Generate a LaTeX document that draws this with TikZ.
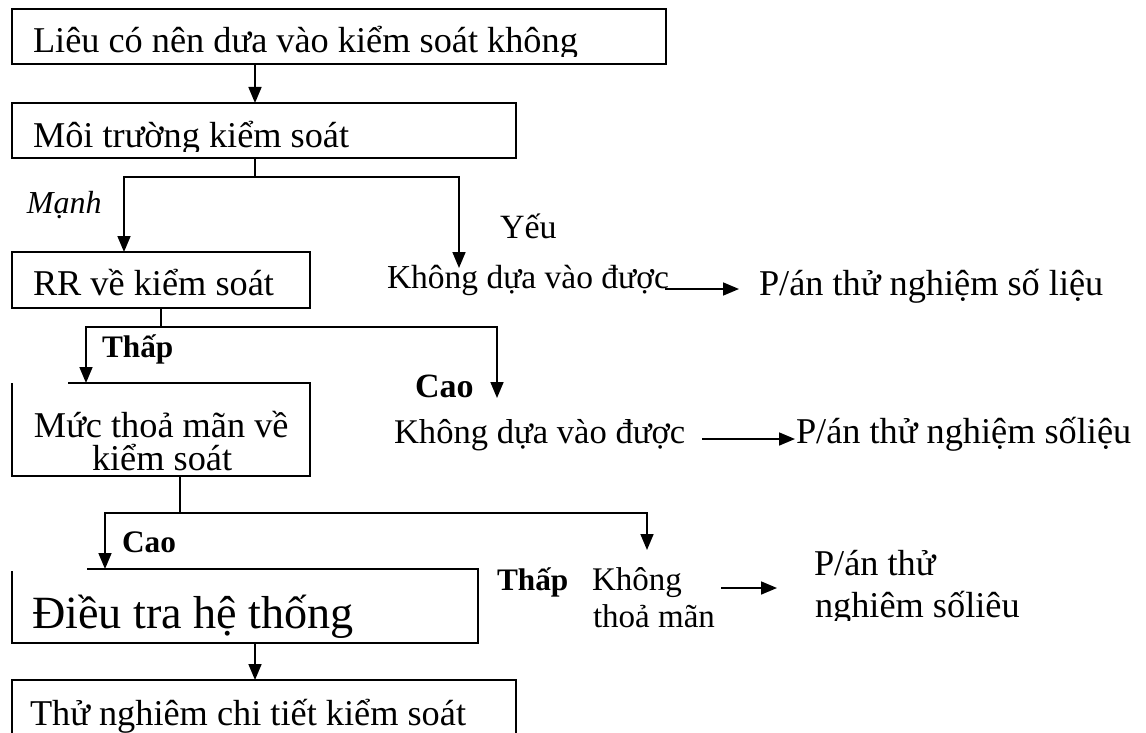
\documentclass[tikz,border=0pt]{standalone}
\usepackage{fontspec}
\setmainfont{Liberation Serif}
\usetikzlibrary{arrows.meta}
\begin{document}
\begin{tikzpicture}[x=1pt,y=-1pt,
  ln/.style={line width=1.7pt},
  arr/.style={ln,-{Triangle[length=16pt,width=13pt]}},
  box/.style={draw,line width=1.7pt,anchor=north west,inner sep=0pt,outer sep=0pt},
  shell/.style={anchor=north west,inner sep=0pt,outer sep=0pt},
  txt/.style={anchor=base west,inner sep=0pt,outer sep=0pt,font=\fontsize{36.3}{38}\selectfont},
  sm/.style={txt,font=\fontsize{33}{35}\selectfont},
  bl/.style={txt,font=\bfseries\fontsize{31.3}{33}\selectfont}]
\clip (0,0) rectangle (1146,733);
% boxes
\node[box,minimum width=654pt,minimum height=55pt] (b1) at (12,9) {};
\node[box,minimum width=504pt,minimum height=55pt] (b2) at (12,103) {};
\node[box,minimum width=298pt,minimum height=56pt] (b3) at (12,252) {};
\node[shell,minimum width=298pt,minimum height=93pt] (b4) at (12,383) {};
\node[shell,minimum width=466pt,minimum height=74pt] (b5) at (12,569) {};
\node[box,minimum width=504pt,minimum height=70pt] (b6) at (12,680) {};
\draw[ln] (68,383) -- (b4.north east) -- (b4.south east) -- (b4.south west) -- (b4.north west);
\draw[ln] (87,569) -- (b5.north east) -- (b5.south east) -- (b5.south west) -- (12,571);
% box texts
\begin{scope}
\clip (12,9) rectangle (666,57);
\node[txt] (t1) at (33,53) {Liêu có nên dưa vào kiểm soát không};
\end{scope}
\begin{scope}
\clip (12,103) rectangle (516,152);
\node[txt] (t2) at (33,148) {Môi trường kiểm soát};
\end{scope}
\node[txt] (t3) at (33,295) {RR về kiểm soát};
\node[txt] (t4a) at (34,437) {Mức thoả mãn về};
\begin{scope}
\clip (12,383) rectangle (310,473);
\node[txt] (t4b) at (92,470) {kiểm soát};
\end{scope}
\node[txt,font=\fontsize{46.2}{48}\selectfont] (t5) at (32,628) {Điều tra hệ thống};
\node[txt] (t6) at (30,725) {Thử nghiêm chi tiết kiểm soát};
% side texts
\node[txt,font=\fontsize{33.5}{35}\selectfont] (k1) at (387,288) {Không dựa vào được};
\node[txt] (p1) at (759,295) {P/án thử nghiệm số liệu};
\node[txt,font=\fontsize{34.6}{36}\selectfont] (k2) at (394,443) {Không dựa vào được};
\node[txt] (p2) at (796,443) {P/án thử nghiệm sốliệu};
\node[sm] (k3a) at (592,590) {Không};
\node[sm] (k3b) at (593,627) {thoả mãn};
\node[txt] (p3a) at (814,575) {P/án thử};
\begin{scope}
\clip (800,580) rectangle (1060,620);
\node[txt] (p3b) at (815,617) {nghiêm sốliêu};
\end{scope}
% labels
\node[txt,font=\itshape\fontsize{32}{33}\selectfont] (lmanh) at (27,213) {Mạnh};
\node[txt,font=\fontsize{34}{35}\selectfont] (lyeu) at (500,238) {Yếu};
\node[bl] (lthap1) at (102,357) {Thấp};
\node[bl,font=\bfseries\fontsize{34}{35}\selectfont] (lcao1) at (415,397) {Cao};
\node[bl] (lcao2) at (122,552) {Cao};
\node[bl] (lthap2) at (497,590) {Thấp};
% connectors
\coordinate (j1) at (255,177);
\coordinate (j2) at (161,327);
\coordinate (j3) at (180,513);
\coordinate (y1) at (459,268);
\coordinate (c1) at (497,398);
\coordinate (c2) at (647,550);
\draw[arr] (255,0 |- b1.south) -- (255,0 |- b2.north);
\draw[ln] (j1 |- b2.south) -- (j1);
\draw[arr] (j1) -- (124,177) -- (124,0 |- b3.north);
\draw[arr] (j1) -- (459,177) -- (y1);
\draw[ln] (j2 |- b3.south) -- (j2);
\draw[arr] (j2) -- (86,327) -- (86,0 |- b4.north);
\draw[arr] (j2) -- (497,327) -- (c1);
\draw[ln] (j3 |- b4.south) -- (j3);
\draw[arr] (j3) -- (105,513) -- (105,0 |- b5.north);
\draw[arr] (j3) -- (647,513) -- (c2);
\draw[arr] (255,0 |- b5.south) -- (255,0 |- b6.north);
\draw[arr] (665,289) -- (739,289);
\draw[arr] (702,439) -- (795,439);
\draw[arr] (721,588) -- (777,588);
\end{tikzpicture}
\end{document}
